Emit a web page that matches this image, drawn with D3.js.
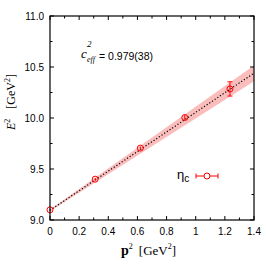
<!DOCTYPE html>
<html lang="en">
<head>
  <meta charset="UTF-8">
  <title>Dispersion relation</title>
  <script src="https://d3js.org/d3.v7.min.js"></script>
  <style>
    body { margin: 0; padding: 0; background: #fff; }
    .tick-label { font: 10px "Liberation Sans", Arial, sans-serif; fill: #000; }
    .serif { font-family: "Liberation Serif", "Times New Roman", serif; fill: #000; }
  </style>
</head>
<body>
  <script>
    // measured points
    const p2 = [0.0, 0.31, 0.62, 0.925, 1.235];
    const E2 = [9.10, 9.40, 9.705, 10.005, 10.285];
    const E2err = [0.01, 0.012, 0.015, 0.025, 0.07];

    // fit line and its error band
    const fitX = [0.0, 1.4];
    const fitY = [9.095, 10.44];
    const bandLo = [9.087, 10.36];
    const bandHi = [9.103, 10.515];

    const xTicks = [0, 0.2, 0.4, 0.6, 0.8, 1, 1.2, 1.4];
    const yTicks = [9.0, 9.5, 10.0, 10.5, 11.0];

    const width = 266, height = 266;
    const margin = { left: 50, right: 12, top: 16, bottom: 46 };

    const svg = d3.select("body").append("svg")
      .attr("width", width)
      .attr("height", height);

    const x = d3.scaleLinear().domain([0, 1.4]).range([margin.left, width - margin.right]);
    const y = d3.scaleLinear().domain([9, 11]).range([height - margin.bottom, margin.top]);

    // error band
    const bandData = fitX.map((v, i) => ({ x: v, lo: bandLo[i], hi: bandHi[i] }));
    svg.append("path")
      .datum(bandData)
      .attr("fill", "#fbbcbc")
      .attr("d", d3.area().x(d => x(d.x)).y0(d => y(d.lo)).y1(d => y(d.hi)));

    // fit line (dotted)
    svg.append("path")
      .datum(fitX.map((v, i) => [v, fitY[i]]))
      .attr("fill", "none")
      .attr("stroke", "#000")
      .attr("stroke-width", 1.2)
      .attr("stroke-dasharray", "1.2,2")
      .attr("d", d3.line().x(d => x(d[0])).y(d => y(d[1])));

    // data points
    const pts = p2.map((v, i) => ({ x: v, y: E2[i], e: E2err[i] }));
    const g = svg.append("g").attr("stroke", "#f00").attr("fill", "none").attr("stroke-width", 1);
    g.selectAll("line.err").data(pts).join("line")
      .attr("x1", d => x(d.x)).attr("x2", d => x(d.x))
      .attr("y1", d => y(d.y - d.e)).attr("y2", d => y(d.y + d.e));
    const capped = pts.filter(d => d.e > 0.03);
    g.selectAll("line.cap1").data(capped).join("line")
      .attr("x1", d => x(d.x) - 2.5).attr("x2", d => x(d.x) + 2.5)
      .attr("y1", d => y(d.y + d.e)).attr("y2", d => y(d.y + d.e));
    g.selectAll("line.cap2").data(capped).join("line")
      .attr("x1", d => x(d.x) - 2.5).attr("x2", d => x(d.x) + 2.5)
      .attr("y1", d => y(d.y - d.e)).attr("y2", d => y(d.y - d.e));
    g.selectAll("circle").data(pts).join("circle")
      .attr("cx", d => x(d.x)).attr("cy", d => y(d.y)).attr("r", 3);

    // frame
    const x0 = x(0), x1 = x(1.4), y0 = y(9), y1 = y(11);
    svg.append("rect")
      .attr("x", x0).attr("y", y1).attr("width", x1 - x0).attr("height", y0 - y1)
      .attr("fill", "none").attr("stroke", "#000").attr("stroke-width", 1.2);

    // ticks, inward on all sides
    const tickG = svg.append("g").attr("stroke", "#000").attr("stroke-width", 1);
    const xMinor = d3.range(0, 15).map(i => i / 10);
    xMinor.forEach(v => {
      const len = xTicks.some(t => Math.abs(t - v) < 1e-9) ? 4 : 2.5;
      tickG.append("line").attr("x1", x(v)).attr("x2", x(v)).attr("y1", y0).attr("y2", y0 - len);
      tickG.append("line").attr("x1", x(v)).attr("x2", x(v)).attr("y1", y1).attr("y2", y1 + len);
    });
    const yMinor = d3.range(0, 9).map(i => 9 + i * 0.25);
    yMinor.forEach(v => {
      const len = yTicks.some(t => Math.abs(t - v) < 1e-9) ? 4 : 2.5;
      tickG.append("line").attr("y1", y(v)).attr("y2", y(v)).attr("x1", x0).attr("x2", x0 + len);
      tickG.append("line").attr("y1", y(v)).attr("y2", y(v)).attr("x1", x1).attr("x2", x1 - len);
    });

    // tick labels
    svg.selectAll("text.xt").data(xTicks).join("text")
      .attr("class", "tick-label")
      .attr("x", d => x(d)).attr("y", y0 + 15)
      .attr("text-anchor", "middle")
      .text(d => d3.format("~g")(d));
    svg.selectAll("text.yt").data(yTicks).join("text")
      .attr("class", "tick-label")
      .attr("x", x0 - 6).attr("y", d => y(d) + 3.5)
      .attr("text-anchor", "end")
      .text(d => d.toFixed(1));

    // axis titles
    const xl = svg.append("text").attr("class", "serif")
      .attr("x", 121).attr("y", 255).style("font-size", "13px");
    xl.append("tspan").attr("font-weight", "bold").style("font-size", "14px").text("p");
    xl.append("tspan").attr("dy", -6).style("font-size", "8px").text("2");
    xl.append("tspan").attr("dy", 6).attr("dx", 6).text("[GeV");
    xl.append("tspan").attr("dy", -6).style("font-size", "8px").text("2");
    xl.append("tspan").attr("dy", 6).text("]");

    const yl = svg.append("text").attr("class", "serif")
      .attr("transform", "translate(15,130) rotate(-90)").style("font-size", "12px");
    yl.append("tspan").attr("font-style", "italic").text("E");
    yl.append("tspan").attr("dy", -5).style("font-size", "8px").text("2");
    yl.append("tspan").attr("dy", 5).attr("dx", 10).text("[GeV");
    yl.append("tspan").attr("dy", -5).style("font-size", "8px").text("2");
    yl.append("tspan").attr("dy", 5).text("]");

    // annotation: c_eff^2 = 0.979(38)
    const ann = svg.append("g");
    ann.append("text").attr("class", "serif").attr("x", 81).attr("y", 58)
      .attr("font-style", "italic").style("font-size", "13px").text("c");
    ann.append("text").attr("class", "serif").attr("x", 87).attr("y", 47)
      .attr("font-style", "italic").style("font-size", "9px").text("2");
    ann.append("text").attr("class", "serif").attr("x", 87).attr("y", 62)
      .attr("font-style", "italic").style("font-size", "8px").text("eff");
    ann.append("text").attr("class", "tick-label").attr("x", 99).attr("y", 60)
      .style("font-size", "10.5px")
      .text("= 0.979(38)");

    // legend
    const lx = 207, ly = 176;
    const leg = svg.append("text").attr("x", 177).attr("y", ly + 3)
      .style("font-family", "'Liberation Sans', Arial, sans-serif")
      .style("font-size", "13px").attr("fill", "#000");
    leg.append("tspan").text("η");
    leg.append("tspan").attr("dy", 3).style("font-size", "10px").text("c");
    const lg = svg.append("g").attr("stroke", "#f00").attr("fill", "none");
    lg.append("line").attr("x1", lx - 11).attr("x2", lx + 11).attr("y1", ly).attr("y2", ly);
    lg.append("line").attr("x1", lx - 11).attr("x2", lx - 11).attr("y1", ly - 2.5).attr("y2", ly + 2.5);
    lg.append("line").attr("x1", lx + 11).attr("x2", lx + 11).attr("y1", ly - 2.5).attr("y2", ly + 2.5);
    lg.append("circle").attr("cx", lx).attr("cy", ly).attr("r", 3).attr("fill", "#fff");
  </script>
</body>
</html>
